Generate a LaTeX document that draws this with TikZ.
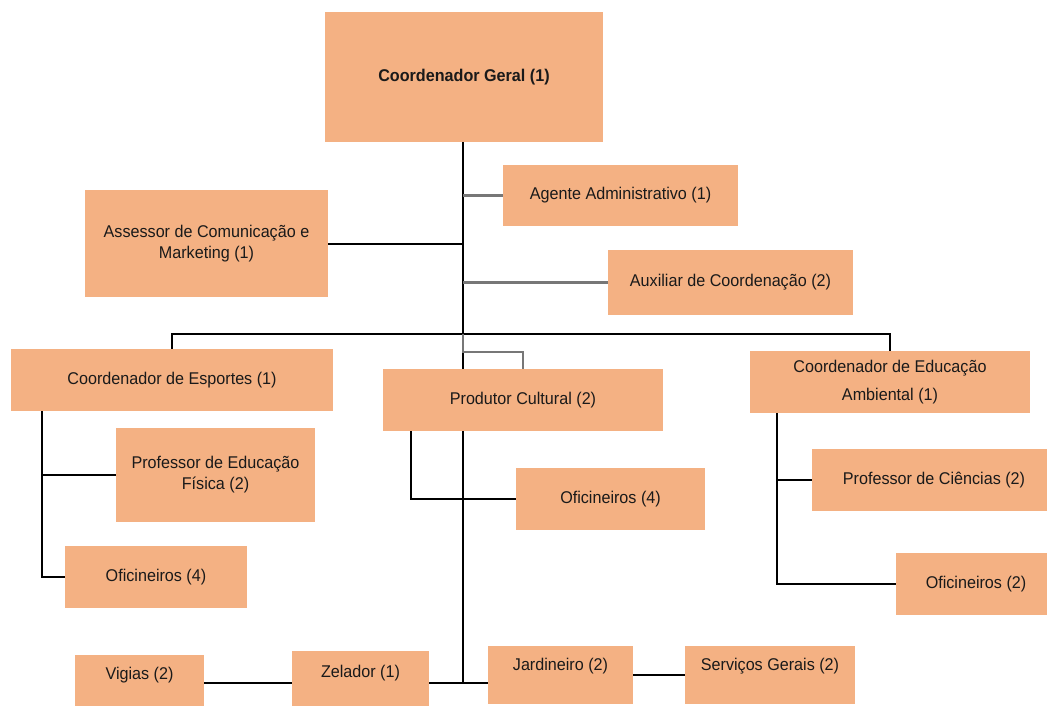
\documentclass[tikz,border=0pt]{standalone}
\usepackage{fontspec}
\setmainfont{Liberation Sans}[FakeStretch=0.95]
\usetikzlibrary{backgrounds}
\definecolor{cargofill}{HTML}{F4B183}
\definecolor{cargotext}{HTML}{1A1A1A}
\definecolor{linkgrey}{HTML}{777777}

\begin{document}
\begin{tikzpicture}[x=1pt,y=-1pt,
    every node/.style={rectangle,fill=cargofill,text=cargotext,inner sep=0pt,align=center,font=\fontsize{17}{21}\selectfont},
    link/.style={line width=2pt,black},
    greylink/.style={line width=2.2pt,linkgrey}]
            \useasboundingbox (0,0) rectangle (1047,706);
            \node[minimum width=278pt,minimum height=130pt,font=\fontsize{17}{21}\selectfont\bfseries] (geral) at (464,77) {Coordenador Geral (1)};
            \node[minimum width=235pt,minimum height=61pt] (agente) at (620.5,195.5) {Agente Administrativo (1)};
            \node[minimum width=243pt,minimum height=107pt] (assessor) at (206.5,243.5) {Assessor de Comunicação e\\Marketing (1)};
            \node[minimum width=245pt,minimum height=65pt] (auxiliar) at (730.5,282.5) {Auxiliar de Coordenação (2)};
            \node[minimum width=322pt,minimum height=62pt] (esportes) at (172,380) {Coordenador de Esportes (1)};
            \node[minimum width=280pt,minimum height=62pt] (produtor) at (523,400) {Produtor Cultural (2)};
            \node[minimum width=280pt,minimum height=62pt] (ambiental) at (890,382) {Coordenador de Educação\\[7pt]Ambiental (1)};
            \node[minimum width=199pt,minimum height=94pt] (edfisica) at (215.5,475) {Professor de Educação\\Física (2)};
            \node[minimum width=182pt,minimum height=62pt] (ofesp) at (156,577) {Oficineiros (4)};
            \node[minimum width=189pt,minimum height=62pt] (ofprod) at (610.5,499) {Oficineiros (4)};
            \node[minimum width=235pt,minimum height=62pt] (ciencias) at (929.5,480) {\hspace{9pt}Professor de Ciências (2)};
            \node[minimum width=151pt,minimum height=62pt] (ofamb) at (971.5,584) {\hspace{9pt}Oficineiros (2)};
            \node[minimum width=129pt,minimum height=51pt] (vigias) at (139.5,680.5) {\raisebox{15pt}{Vigias (2)}};
            \node[minimum width=137pt,minimum height=55pt] (zelador) at (360.5,678.5) {\raisebox{15pt}{Zelador (1)}};
            \node[minimum width=145pt,minimum height=58pt] (jardineiro) at (560.5,675) {\raisebox{22pt}{Jardineiro (2)}};
            \node[minimum width=170pt,minimum height=58pt] (servicos) at (770,675) {\raisebox{22pt}{Serviços Gerais (2)}};
            \coordinate (bar) at (463,334);
            \coordinate (knee) at (523,352);
            \coordinate (base) at (463,683);
            \coordinate (esp) at (42,411);
            \coordinate (prod) at (411,431);
            \coordinate (amb) at (777,413);
            \begin{scope}[on background layer]
            \draw[link] (geral.south -| bar) -- (base);
            \draw[greylink] (bar |- agente.west) -- (agente.west);
            \draw[link] (assessor.east) -- (assessor.east -| bar);
            \draw[greylink] (bar |- auxiliar.west) -- (auxiliar.west);
            \draw[link] (esportes.north) |- (bar) -| (ambiental.north);
            \draw[greylink] (bar) |- (knee) -- (produtor.north);
            \draw[link] (esp) |- (ofesp.west);
            \draw[link] (esp |- edfisica.west) -- (edfisica.west);
            \draw[link] (prod) |- (ofprod.west);
            \draw[link] (amb) |- (ofamb.west);
            \draw[link] (amb |- ciencias.west) -- (ciencias.west);
            \draw[link] (vigias.east |- base) -- (zelador.west |- base);
            \draw[link] (zelador.east |- base) -- (jardineiro.west |- base);
            \draw[link] (jardineiro.east) -- (servicos.west);
            \end{scope}
        \end{tikzpicture}
\end{document}
